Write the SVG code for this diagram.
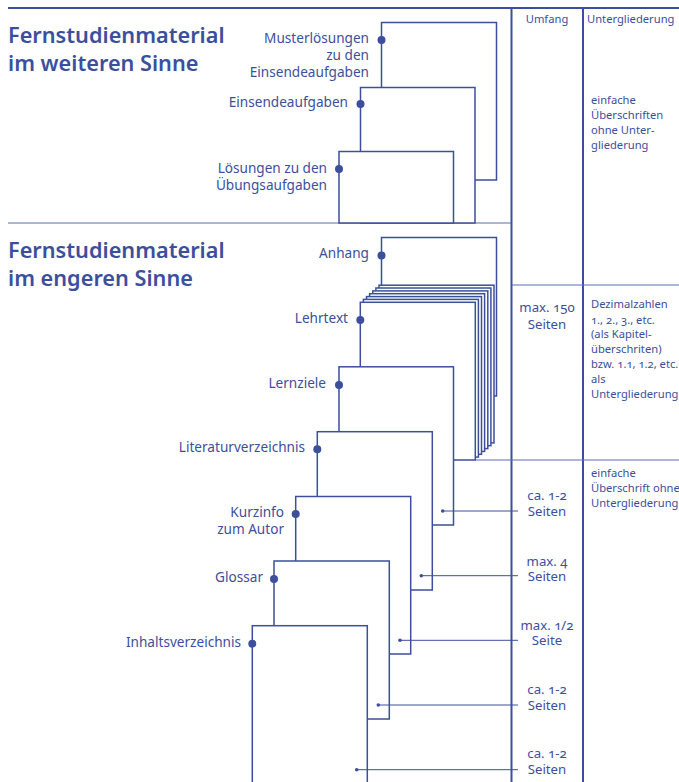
<svg xmlns="http://www.w3.org/2000/svg" width="679" height="782" viewBox="0 0 679 782">
<style>
text{font-family:"Noto Sans","Open Sans","DejaVu Sans",sans-serif;fill:#3c4f9c;font-variant-numeric:oldstyle-nums}
.title{font-size:21.7px;font-weight:600}
.lbl{font-size:13.6px;text-anchor:end}
.um{font-size:13.2px;text-anchor:middle}
.ug{font-size:11.2px}
.pg{fill:#fff;stroke:#3c4f9c;stroke-width:1.5}
.dot{fill:#3c4f9c}
.col{stroke:#3c4f9c;stroke-width:2;fill:none}
.sep{stroke:#5b6cb0;stroke-width:1;fill:none}
.lead{stroke:#3c4f9c;stroke-width:1;fill:none}
</style>
<rect width="679" height="782" fill="#fff"/>
<g id="frame">
<line class="col" x1="8" y1="8" x2="679" y2="8"/>
<line class="col" x1="511.5" y1="8" x2="511.5" y2="782"/>
<line class="col" x1="583" y1="8" x2="583" y2="782"/>
<line class="sep" x1="8" y1="223" x2="511" y2="223"/>
<line class="sep" x1="512" y1="285" x2="679" y2="285"/>
<line class="sep" x1="475" y1="460" x2="679" y2="460"/>
<text class="ug" x="547" y="23" text-anchor="middle">Umfang</text>
<text class="ug" x="587" y="23">Untergliederung</text>
</g>
<g id="heading-weiter">
<text class="title" x="8" y="43">Fernstudienmaterial</text>
<text class="title" x="8" y="71">im weiteren Sinne</text>
</g>
<g id="heading-enger">
<text class="title" x="8" y="258">Fernstudienmaterial</text>
<text class="title" x="8" y="286">im engeren Sinne</text>
</g>
<g id="musterloesungen">
<rect class="pg" x="381.5" y="22.5" width="115" height="157.5"/>
<circle class="dot" cx="381.5" cy="40" r="4"/>
<text class="lbl" x="369" y="43">Musterlösungen</text>
<text class="lbl" x="369" y="60">zu den</text>
<text class="lbl" x="369" y="77">Einsendeaufgaben</text>
</g>
<g id="einsendeaufgaben">
<rect class="pg" x="360.5" y="87.5" width="114.5" height="135.5"/>
<circle class="dot" cx="360.5" cy="104" r="4"/>
<text class="lbl" x="348" y="107">Einsendeaufgaben</text>
</g>
<g id="loesungen">
<rect class="pg" x="339" y="151.5" width="114.5" height="71.5"/>
<circle class="dot" cx="339" cy="169" r="4"/>
<text class="lbl" x="327" y="173">Lösungen zu den</text>
<text class="lbl" x="327" y="190">Übungsaufgaben</text>
</g>
<g id="umfang-weiter">
<text class="ug" x="591" y="104">einfache</text>
<text class="ug" x="591" y="119">Überschriften</text>
<text class="ug" x="591" y="134">ohne Unter-</text>
<text class="ug" x="591" y="149">gliederung</text>
</g>
<g id="anhang">
<rect class="pg" x="381.5" y="237.5" width="115" height="158.5"/>
<circle class="dot" cx="381.5" cy="255.5" r="4"/>
<text class="lbl" x="369" y="258">Anhang</text>
</g>
<g id="lehrtext">
<rect class="pg" x="379" y="285.2" width="115" height="157.7"/>
<rect class="pg" x="375.9" y="288" width="115" height="157.7"/>
<rect class="pg" x="372.8" y="290.9" width="115" height="157.7"/>
<rect class="pg" x="369.6" y="293.7" width="115" height="157.7"/>
<rect class="pg" x="366.5" y="296.6" width="115" height="157.7"/>
<rect class="pg" x="363.4" y="299.4" width="115" height="157.7"/>
<rect class="pg" x="360.3" y="302.3" width="115" height="157.7"/>
<circle class="dot" cx="360.3" cy="320" r="4"/>
<text class="lbl" x="348" y="323">Lehrtext</text>
</g>
<g id="lernziele">
<rect class="pg" x="339" y="366.8" width="114.5" height="158.2"/>
<circle class="dot" cx="339" cy="385" r="4"/>
<text class="lbl" x="326" y="388">Lernziele</text>
</g>
<g id="literaturverzeichnis">
<rect class="pg" x="317.3" y="431.7" width="115" height="158.3"/>
<circle class="dot" cx="317.3" cy="449.3" r="4"/>
<text class="lbl" x="305" y="452">Literaturverzeichnis</text>
</g>
<g id="kurzinfo">
<rect class="pg" x="295.7" y="496.5" width="115" height="157.5"/>
<circle class="dot" cx="295.7" cy="514" r="4"/>
<text class="lbl" x="284" y="517">Kurzinfo</text>
<text class="lbl" x="284" y="534">zum Autor</text>
</g>
<g id="glossar">
<rect class="pg" x="274" y="561" width="115.3" height="158"/>
<circle class="dot" cx="274" cy="579" r="4"/>
<text class="lbl" x="263" y="581.5">Glossar</text>
</g>
<g id="inhaltsverzeichnis">
<rect class="pg" x="252.3" y="625.7" width="115" height="170"/>
<circle class="dot" cx="252.3" cy="643.7" r="4"/>
<text class="lbl" x="241" y="646.5">Inhaltsverzeichnis</text>
</g>
<g id="connectors">
<line class="lead" x1="442.7" y1="511" x2="518" y2="511"/>
<circle class="dot" cx="442.7" cy="511" r="1.8"/>
<line class="lead" x1="421.3" y1="575.7" x2="518" y2="575.7"/>
<circle class="dot" cx="421.3" cy="575.7" r="1.8"/>
<line class="lead" x1="400" y1="640.3" x2="518" y2="640.3"/>
<circle class="dot" cx="400" cy="640.3" r="1.8"/>
<line class="lead" x1="378.3" y1="705" x2="518" y2="705"/>
<circle class="dot" cx="378.3" cy="705" r="1.8"/>
<line class="lead" x1="356.7" y1="769.7" x2="518" y2="769.7"/>
<circle class="dot" cx="356.7" cy="769.7" r="1.8"/>
</g>
<g id="umfang-enger">
<text class="um" x="547" y="312">max. 150</text>
<text class="um" x="547" y="329">Seiten</text>
<text class="um" x="547" y="500">ca. 1-2</text>
<text class="um" x="547" y="516">Seiten</text>
<text class="um" x="547" y="566">max. 4</text>
<text class="um" x="547" y="581">Seiten</text>
<text class="um" x="547" y="629.5">max. 1/2</text>
<text class="um" x="547" y="645">Seite</text>
<text class="um" x="547" y="693.5">ca. 1-2</text>
<text class="um" x="547" y="709.5">Seiten</text>
<text class="um" x="547" y="758">ca. 1-2</text>
<text class="um" x="547" y="774">Seiten</text>
</g>
<g id="gliederung-enger">
<text class="ug" x="591" y="308.3">Dezimalzahlen</text>
<text class="ug" x="591" y="323.5">1., 2., 3., etc.</text>
<text class="ug" x="591" y="338.3">(als Kapitel-</text>
<text class="ug" x="591" y="353.3">überschriten)</text>
<text class="ug" x="591" y="368.3">bzw. 1.1, 1.2, etc.</text>
<text class="ug" x="591" y="383.3">als</text>
<text class="ug" x="591" y="398.3">Untergliederung</text>
<text class="ug" x="591" y="476.5">einfache</text>
<text class="ug" x="591" y="491.5">Überschrift ohne</text>
<text class="ug" x="591" y="506.5">Untergliederung</text>
</g>
</svg>
